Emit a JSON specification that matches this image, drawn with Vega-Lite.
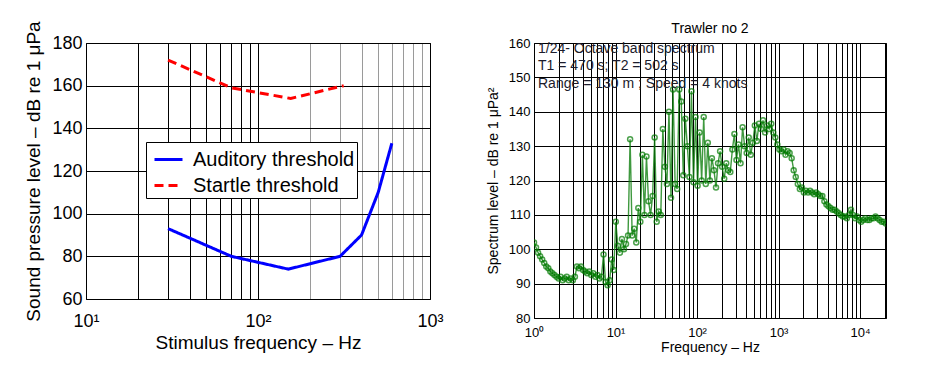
{
  "$schema": "https://vega.github.io/schema/vega-lite/v6.json",
  "background": "white",
  "padding": {"left": 24, "top": 17, "right": 10, "bottom": 5},
  "bounds": "flush",
  "spacing": 104,
  "config": {
    "font": "Liberation Sans",
    "view": {"stroke": "black", "strokeWidth": 1},
    "axis": {
      "labelColor": "black",
      "titleColor": "black",
      "titleFontWeight": "normal",
      "gridColor": "black",
      "gridOpacity": 1,
      "gridWidth": 1,
      "domain": false,
      "ticks": false,
      "labelFont": "Liberation Sans",
      "titleFont": "Liberation Sans",
      "labelOverlap": false,
      "labelFlush": false
    },
    "title": {"font": "Liberation Sans", "fontWeight": "normal", "color": "black"}
  },
  "hconcat": [
    {
      "width": 344,
      "height": 256,
      "data": {
        "values": [
          {"series": "Auditory threshold", "freq": 30, "spl": 93},
          {"series": "Auditory threshold", "freq": 70, "spl": 80},
          {"series": "Auditory threshold", "freq": 150, "spl": 74},
          {"series": "Auditory threshold", "freq": 300, "spl": 80},
          {"series": "Auditory threshold", "freq": 400, "spl": 90},
          {"series": "Auditory threshold", "freq": 500, "spl": 110},
          {"series": "Auditory threshold", "freq": 600, "spl": 133},
          {"series": "Startle threshold", "freq": 30, "spl": 172},
          {"series": "Startle threshold", "freq": 70, "spl": 159},
          {"series": "Startle threshold", "freq": 155, "spl": 154},
          {"series": "Startle threshold", "freq": 315, "spl": 160}
        ]
      },
      "mark": {"type": "line", "strokeWidth": 3, "clip": true},
      "encoding": {
        "x": {
          "field": "freq",
          "type": "quantitative",
          "scale": {"type": "log", "domain": [10, 1000], "nice": false},
          "axis": {
            "title": "Stimulus frequency – Hz",
            "values": [10, 20, 30, 40, 50, 60, 70, 80, 90, 100, 200, 300, 400, 500, 600, 700, 800, 900, 1000],
            "labelExpr": "datum.value == 10 ? '10¹' : datum.value == 100 ? '10²' : datum.value == 1000 ? '10³' : ''",
            "grid": true,
            "gridColor": {"condition": {"test": "datum.value > 100 && datum.value < 1000", "value": "#9a9a9a"}, "value": "black"},
            "labelFontSize": 18,
            "titleFontSize": 19,
            "labelPadding": 13,
            "titlePadding": 3
          }
        },
        "y": {
          "field": "spl",
          "type": "quantitative",
          "scale": {"domain": [60, 180], "nice": false, "zero": false},
          "axis": {
            "title": "Sound pressure level – dB re 1  μPa",
            "values": [60, 80, 100, 120, 140, 160, 180],
            "grid": true,
            "labelFontSize": 18,
            "titleFontSize": 19,
            "labelPadding": 4,
            "titlePadding": 8
          }
        },
        "color": {
          "field": "series",
          "type": "nominal",
          "scale": {"domain": ["Auditory threshold", "Startle threshold"], "range": ["#0000ff", "#ff0000"]},
          "legend": {
            "title": null,
            "orient": "none",
            "legendX": 60,
            "legendY": 99,
            "direction": "vertical",
            "strokeColor": "black",
            "fillColor": "white",
            "padding": 2,
            "labelFontSize": 20,
            "labelLimit": 400,
            "labelColor": "black",
            "labelFont": "Liberation Sans",
            "labelExpr": "datum.label + '\u00a0'",
            "symbolType": "stroke",
            "symbolSize": 784,
            "symbolStrokeWidth": 3,
            "symbolOffset": 5,
            "labelOffset": 9,
            "rowPadding": -3
          }
        },
        "strokeDash": {
          "field": "series",
          "type": "nominal",
          "scale": {"domain": ["Auditory threshold", "Startle threshold"], "range": [[1, 0], [9, 5]]},
          "legend": {
            "title": null,
            "orient": "none",
            "legendX": 60,
            "legendY": 99,
            "direction": "vertical",
            "strokeColor": "black",
            "fillColor": "white",
            "padding": 2,
            "labelFontSize": 20,
            "labelLimit": 400,
            "labelColor": "black",
            "labelFont": "Liberation Sans",
            "labelExpr": "datum.label + '\u00a0'",
            "symbolType": "stroke",
            "symbolSize": 784,
            "symbolStrokeWidth": 3,
            "symbolOffset": 5,
            "labelOffset": 9,
            "rowPadding": -3
          }
        }
      }
    },
    {
      "width": 352,
      "height": 275,
      "title": {"text": "Trawler no 2", "fontSize": 14, "offset": 1},
      "encoding": {
        "x": {
          "field": "f",
          "type": "quantitative",
          "scale": {"type": "log", "domain": [1, 20800], "nice": false},
          "axis": {
            "title": "Frequency – Hz",
            "values": [1, 2, 3, 4, 5, 6, 7, 8, 9, 10, 20, 30, 40, 50, 60, 70, 80, 90, 100, 200, 300, 400, 500, 600, 700, 800, 900, 1000, 2000, 3000, 4000, 5000, 6000, 7000, 8000, 9000, 10000, 20000],
            "labelExpr": "datum.value == 1 ? '10⁰' : datum.value == 10 ? '10¹' : datum.value == 100 ? '10²' : datum.value == 1000 ? '10³' : datum.value == 10000 ? '10⁴' : ''",
            "grid": true,
            "labelFontSize": 13,
            "titleFontSize": 14,
            "labelPadding": 8,
            "titlePadding": 1
          }
        },
        "y": {
          "field": "level",
          "type": "quantitative",
          "scale": {"domain": [80, 160], "nice": false, "zero": false},
          "axis": {
            "title": "Spectrum level – dB re 1  μPa²",
            "values": [80, 90, 100, 110, 120, 130, 140, 150, 160],
            "grid": true,
            "labelFontSize": 13,
            "titleFontSize": 14,
            "labelPadding": 4,
            "titlePadding": 8
          }
        }
      },
      "layer": [
        {
          "data": {"name": "spectrum"},
          "mark": {"type": "line", "color": "#0f7f0f", "strokeWidth": 1.4, "opacity": 0.8, "clip": true}
        },
        {
          "data": {"name": "spectrum"},
          "mark": {"type": "point", "shape": "circle", "filled": false, "size": 25, "strokeWidth": 1.5, "color": "#007a00", "clip": true}
        },
        {
          "data": {
            "values": [
              {"f": 1.12, "level": 158.4, "label": "1/24- Octave band spectrum"},
              {"f": 1.12, "level": 153.3, "label": "T1 = 470 s;  T2 = 502 s"},
              {"f": 1.12, "level": 148.0, "label": "Range = 130 m ;  Speed = 4 knots"}
            ]
          },
          "mark": {"type": "text", "align": "left", "baseline": "middle", "fontSize": 14, "color": "#1c1c2c", "font": "Liberation Sans"},
          "encoding": {"text": {"field": "label", "type": "nominal"}}
        }
      ]
    }
  ],
  "datasets": {
    "spectrum": [
      {"f": 1, "level": 102}, {"f": 1.059, "level": 100.5}, {"f": 1.122, "level": 99}, {"f": 1.189, "level": 98},
      {"f": 1.26, "level": 97}, {"f": 1.335, "level": 96}, {"f": 1.414, "level": 95}, {"f": 1.498, "level": 94.5},
      {"f": 1.587, "level": 93.5}, {"f": 1.682, "level": 93}, {"f": 1.782, "level": 92.5}, {"f": 1.888, "level": 92},
      {"f": 2, "level": 91.5}, {"f": 2.119, "level": 92}, {"f": 2.245, "level": 91}, {"f": 2.378, "level": 91.5},
      {"f": 2.52, "level": 92}, {"f": 2.67, "level": 91}, {"f": 2.828, "level": 91.5}, {"f": 2.997, "level": 91},
      {"f": 3.175, "level": 92}, {"f": 3.364, "level": 95}, {"f": 3.564, "level": 94.5}, {"f": 3.775, "level": 95},
      {"f": 4, "level": 94}, {"f": 4.238, "level": 93.5}, {"f": 4.49, "level": 93}, {"f": 4.757, "level": 93.5},
      {"f": 5.04, "level": 92.5}, {"f": 5.339, "level": 93}, {"f": 5.657, "level": 92}, {"f": 5.993, "level": 92.5},
      {"f": 6.35, "level": 91.5}, {"f": 6.727, "level": 92}, {"f": 7.127, "level": 98.5}, {"f": 7.551, "level": 90.5},
      {"f": 8, "level": 89.5}, {"f": 8.476, "level": 91}, {"f": 8.98, "level": 97}, {"f": 9.514, "level": 94},
      {"f": 10.08, "level": 108}, {"f": 10.68, "level": 101}, {"f": 11.31, "level": 99}, {"f": 11.99, "level": 103},
      {"f": 12.7, "level": 100}, {"f": 13.45, "level": 101.5}, {"f": 14.25, "level": 104}, {"f": 15.1, "level": 132},
      {"f": 16, "level": 104}, {"f": 16.95, "level": 106}, {"f": 17.96, "level": 102}, {"f": 19.03, "level": 112},
      {"f": 20.16, "level": 108}, {"f": 21.36, "level": 127.5}, {"f": 22.63, "level": 110}, {"f": 23.97, "level": 127},
      {"f": 25.4, "level": 114}, {"f": 26.91, "level": 110}, {"f": 28.51, "level": 115.5}, {"f": 30.2, "level": 132.5},
      {"f": 32, "level": 108}, {"f": 33.9, "level": 111}, {"f": 35.92, "level": 110}, {"f": 38.05, "level": 135},
      {"f": 40.32, "level": 124}, {"f": 42.71, "level": 119}, {"f": 45.25, "level": 140}, {"f": 47.95, "level": 115},
      {"f": 50.8, "level": 146.5}, {"f": 53.82, "level": 119}, {"f": 57.02, "level": 117.5}, {"f": 60.41, "level": 146.5},
      {"f": 64, "level": 143}, {"f": 67.81, "level": 121.5}, {"f": 71.84, "level": 138}, {"f": 76.11, "level": 130},
      {"f": 80.63, "level": 121}, {"f": 85.43, "level": 146}, {"f": 90.51, "level": 119.5}, {"f": 95.89, "level": 138.5},
      {"f": 101.6, "level": 118.5}, {"f": 107.6, "level": 134}, {"f": 114, "level": 120}, {"f": 120.8, "level": 138.5},
      {"f": 128, "level": 119}, {"f": 135.6, "level": 131}, {"f": 143.7, "level": 120}, {"f": 152.2, "level": 126.5},
      {"f": 161.3, "level": 123}, {"f": 170.9, "level": 118}, {"f": 181, "level": 125}, {"f": 191.8, "level": 128.5},
      {"f": 203.2, "level": 124}, {"f": 215.3, "level": 120.5}, {"f": 228.1, "level": 125}, {"f": 241.7, "level": 123},
      {"f": 256, "level": 122.5}, {"f": 271.2, "level": 129}, {"f": 287.4, "level": 133.5}, {"f": 304.4, "level": 126},
      {"f": 322.5, "level": 130.5}, {"f": 341.7, "level": 125}, {"f": 362, "level": 135.5}, {"f": 383.6, "level": 130},
      {"f": 406.4, "level": 128}, {"f": 430.5, "level": 132.5}, {"f": 456.1, "level": 127.5}, {"f": 483.3, "level": 131},
      {"f": 512, "level": 136}, {"f": 542.4, "level": 131.5}, {"f": 574.7, "level": 136.5}, {"f": 608.9, "level": 135},
      {"f": 645.1, "level": 137.5}, {"f": 683.4, "level": 134}, {"f": 724.1, "level": 136}, {"f": 767.2, "level": 135},
      {"f": 812.7, "level": 136.5}, {"f": 861.1, "level": 134}, {"f": 912.3, "level": 132.5}, {"f": 966.5, "level": 130.5},
      {"f": 1024, "level": 129}, {"f": 1085, "level": 128.5}, {"f": 1149, "level": 129}, {"f": 1218, "level": 127.5},
      {"f": 1290, "level": 128.5}, {"f": 1367, "level": 128}, {"f": 1448, "level": 126.5}, {"f": 1534, "level": 123},
      {"f": 1625, "level": 121}, {"f": 1722, "level": 119}, {"f": 1825, "level": 117.5}, {"f": 1933, "level": 118},
      {"f": 2048, "level": 116.5}, {"f": 2170, "level": 117}, {"f": 2299, "level": 116.5}, {"f": 2436, "level": 117},
      {"f": 2580, "level": 116.5}, {"f": 2734, "level": 116}, {"f": 2896, "level": 116.5}, {"f": 3069, "level": 116},
      {"f": 3251, "level": 115.5}, {"f": 3444, "level": 115.5}, {"f": 3649, "level": 114}, {"f": 3866, "level": 113},
      {"f": 4096, "level": 112.5}, {"f": 4340, "level": 112}, {"f": 4598, "level": 111.5}, {"f": 4871, "level": 111.5},
      {"f": 5161, "level": 111}, {"f": 5468, "level": 110.5}, {"f": 5793, "level": 110}, {"f": 6137, "level": 109.5},
      {"f": 6502, "level": 109.5}, {"f": 6889, "level": 109}, {"f": 7298, "level": 110}, {"f": 7732, "level": 111.5},
      {"f": 8192, "level": 110}, {"f": 8679, "level": 109}, {"f": 9195, "level": 109.5}, {"f": 9742, "level": 108.5},
      {"f": 10321, "level": 108}, {"f": 10935, "level": 108.5}, {"f": 11585, "level": 109}, {"f": 12274, "level": 108.5},
      {"f": 13004, "level": 108.5}, {"f": 13777, "level": 109}, {"f": 14596, "level": 109}, {"f": 15464, "level": 109.5},
      {"f": 16384, "level": 109}, {"f": 17358, "level": 108.5}, {"f": 18390, "level": 108}, {"f": 19484, "level": 108},
      {"f": 20640, "level": 107.5}
    ]
  }
}
